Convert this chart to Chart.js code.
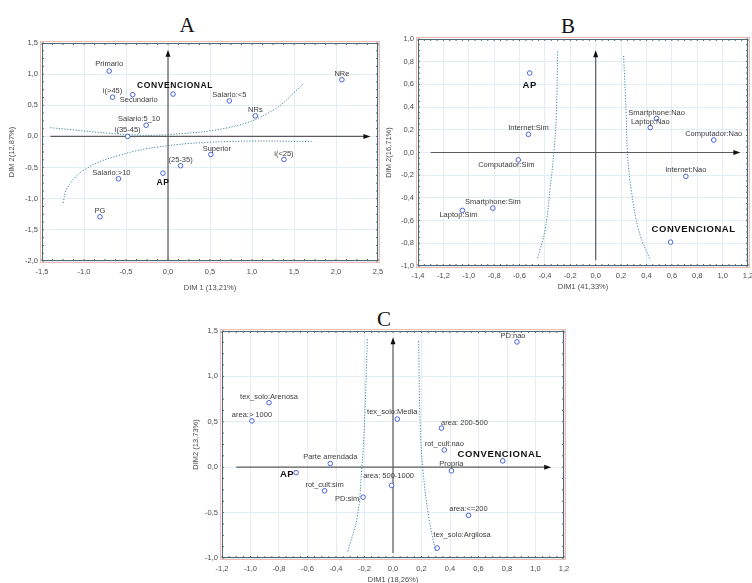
<!DOCTYPE html>
<html>
<head>
<meta charset="utf-8">
<script src="https://cdn.jsdelivr.net/npm/chart.js@4.4.1/dist/chart.umd.min.js"></script>
<style>
body { margin: 0; width: 752px; height: 583px; overflow: hidden; background: #fff; position: relative; }
canvas { position: absolute; }
.tag { position: absolute; font-family: "Liberation Serif", "Times New Roman", serif; font-size: 21px; color: #111; transform: translate(-50%, -50%); }
</style>
</head>
<body>
<div class="tag" style="left:187px; top:25px">A</div>
<div class="tag" style="left:568px; top:26px">B</div>
<div class="tag" style="left:384px; top:319px">C</div>
<canvas id="chartA" width="390" height="270" style="left:0px; top:30px; width:390px; height:270px"></canvas>
<canvas id="chartB" width="392" height="270" style="left:380px; top:30px; width:392px; height:270px"></canvas>
<canvas id="chartC" width="400" height="310" style="left:190px; top:290px; width:400px; height:310px"></canvas>
<script>
// ---- panel A ----
const labelsA = ["Primario", "i(>45)", "Secundario", "CONVENCIONAL", "Salario:<5", "NRs", "NRe", "Salario:5_10", "i(35-45)", "Superior", "i(<25)", "(25-35)", "AP", "Salario:>10", "PG"];
const xA = [-0.70, -0.66, -0.42, 0.06, 0.73, 1.04, 2.07, -0.26, -0.48, 0.51, 1.38, 0.15, -0.06, -0.59, -0.81];
const yA = [1.05, 0.63, 0.67, 0.68, 0.57, 0.33, 0.91, 0.18, 0.0, -0.29, -0.37, -0.47, -0.59, -0.68, -1.29];
const curveUpAx = [-1.40, -0.48, 0.01, 0.78, 1.25, 1.57, 1.62];
const curveUpAy = [0.14, 0.03, 0.03, 0.16, 0.42, 0.79, 0.86];
const curveLowAx = [-1.25, -1.20, -1.00, -0.60, -0.01, 0.78, 1.71];
const curveLowAy = [-1.07, -0.83, -0.54, -0.31, -0.15, -0.08, -0.08];

// ---- panel B ----
const labelsB = ["AP", "Internet:Sim", "Computador:Sim", "Smartphone:Sim", "Laptop:Sim", "Smartphone:Nao", "Laptop:Nao", "Computador:Nao", "Internet:Nao", "CONVENCIONAL"];
const xB = [-0.52, -0.53, -0.61, -0.81, -1.05, 0.48, 0.43, 0.93, 0.71, 0.59];
const yB = [0.70, 0.16, -0.065, -0.49, -0.51, 0.30, 0.22, 0.11, -0.21, -0.79];
const curveLeftBx = [-0.30, -0.31, -0.33, -0.36, -0.40, -0.46];
const curveLeftBy = [0.89, 0.34, 0.0, -0.33, -0.69, -0.94];
const curveRightBx = [0.22, 0.24, 0.25, 0.28, 0.34, 0.43];
const curveRightBy = [0.85, 0.34, 0.0, -0.33, -0.69, -0.95];

// ---- panel C ----
const labelsC = ["PD:nao", "tex_solo:Arenosa", "area:> 1000", "tex_solo:Media", "area: 200-500", "rot_cult:nao", "CONVENCIONAL", "Propria", "Parte arrendada", "AP", "area: 500-1000", "rot_cult:sim", "PD:sim", "area:<=200", "tex_solo:Argilosa"];
const xC = [0.87, -0.87, -0.99, 0.03, 0.34, 0.36, 0.77, 0.41, -0.44, -0.68, -0.01, -0.48, -0.21, 0.53, 0.31];
const yC = [1.38, 0.71, 0.51, 0.53, 0.43, 0.19, 0.07, -0.04, 0.04, -0.06, -0.20, -0.26, -0.33, -0.53, -0.89];
const curveLeftCx = [-0.18, -0.20, -0.22, -0.25, -0.32];
const curveLeftCy = [1.41, 0.49, -0.03, -0.54, -0.94];
const curveRightCx = [0.18, 0.19, 0.21, 0.25, 0.30];
const curveRightCy = [1.39, 0.49, -0.03, -0.54, -0.94];

// label placement next to each point (pixels)
const offA = [[0,-7],[0,-6],[6,5],[2,-8],[0,-6],[0,-6],[0,-6],[-7,-6],[0,-6],[6,-6],[0,-6],[0,-6],[0,9],[-7,-6],[0,-6]];
const offB = [[0,12],[0,-6],[-12,5],[0,-6],[-4,5],[0,-6],[0,-6],[0,-6],[0,-6],[23,-13]];
const offC = [[-4,-6],[0,-6],[0,-6],[-5,-7],[23,-5],[0,-6],[-3,-6],[0,-7],[0,-7],[-9,2],[-3,-9],[0,-6],[-16,2],[0,-6],[25,-13]];

const boldNames = ["CONVENCIONAL", "AP"];

const toPoints = (xs, ys) => xs.map((v, i) => ({ x: v, y: ys[i] }));
const fmt = (v) => (Math.abs(v) < 1e-9 ? 0 : v).toFixed(1).replace(".", ",");

const decor = {
    id: "decor",
    beforeDatasetsDraw(chart, args, opts) {
        const ctx = chart.ctx;
        const xs = chart.scales.x, ys = chart.scales.y;
        const yz = ys.getPixelForValue(0), xz = xs.getPixelForValue(0);
        const hx0 = xs.getPixelForValue(opts.hLine[0]), hx1 = xs.getPixelForValue(opts.hLine[1]);
        const vy0 = ys.getPixelForValue(opts.vLine[0]), vy1 = ys.getPixelForValue(opts.vLine[1]);
        ctx.save();
        ctx.strokeStyle = "#5b5b5b";
        ctx.lineWidth = 1.2;
        ctx.beginPath();
        ctx.moveTo(hx0, yz); ctx.lineTo(hx1 - 4, yz);
        ctx.moveTo(xz, vy0); ctx.lineTo(xz, vy1 + 4);
        ctx.stroke();
        ctx.fillStyle = "#111";
        ctx.beginPath();
        ctx.moveTo(hx1, yz); ctx.lineTo(hx1 - 7, yz - 2.5); ctx.lineTo(hx1 - 7, yz + 2.5); ctx.closePath();
        ctx.moveTo(xz, vy1); ctx.lineTo(xz - 2.5, vy1 + 7); ctx.lineTo(xz + 2.5, vy1 + 7); ctx.closePath();
        ctx.fill();
        ctx.restore();
    },
    afterDatasetsDraw(chart, args, opts) {
        const ctx = chart.ctx;
        const a = chart.chartArea;
        const xs = chart.scales.x, ys = chart.scales.y;
        ctx.save();
        // outer faint red line and frame
        ctx.strokeStyle = "rgba(225,130,115,0.55)";
        ctx.lineWidth = 1;
        ctx.strokeRect(a.left - 1.5, a.top - 1.5, a.right - a.left + 3, a.bottom - a.top + 3);
        ctx.strokeStyle = "#4d6a74";
        ctx.strokeRect(a.left + 0.5, a.top + 0.5, a.right - a.left - 1, a.bottom - a.top - 1);
        // small inward ticks
        ctx.beginPath();
        const sx = opts.minor[0], sy = opts.minor[1];
        for (let v = xs.min; v <= xs.max + 1e-9; v += sx) {
            const p = xs.getPixelForValue(v);
            ctx.moveTo(p, a.bottom); ctx.lineTo(p, a.bottom - 2);
            ctx.moveTo(p, a.top); ctx.lineTo(p, a.top + 2);
        }
        for (let v = ys.min; v <= ys.max + 1e-9; v += sy) {
            const p = ys.getPixelForValue(v);
            ctx.moveTo(a.left, p); ctx.lineTo(a.left + 2, p);
            ctx.moveTo(a.right, p); ctx.lineTo(a.right - 2, p);
        }
        ctx.stroke();
        // point labels
        const ds = chart.data.datasets[0];
        const meta = chart.getDatasetMeta(0);
        ctx.textAlign = "center";
        ctx.textBaseline = "middle";
        meta.data.forEach((el, i) => {
            const name = ds.names[i];
            const off = ds.offsets[i];
            if (boldNames.includes(name)) {
                ctx.font = "bold " + opts.boldSize + "px 'Liberation Sans', Arial, sans-serif";
                ctx.fillStyle = "#111";
                ctx.letterSpacing = "0.6px";
            } else {
                ctx.font = "7.5px 'Liberation Sans', Arial, sans-serif";
                ctx.fillStyle = "#3c3c3c";
                ctx.letterSpacing = "0px";
            }
            ctx.fillText(name, el.x + off[0], el.y + off[1]);
        });
        ctx.restore();
    }
};

function curve(xs, ys) {
    return {
        data: toPoints(xs, ys),
        showLine: true,
        pointRadius: 0,
        borderColor: "#3f8797",
        borderWidth: 1,
        borderDash: [1.2, 1.6],
        tension: 0.4,
        fill: false
    };
}

function makePanel(id, cfg) {
    return new Chart(document.getElementById(id), {
        type: "scatter",
        data: {
            datasets: [
                {
                    data: toPoints(cfg.xs, cfg.ys),
                    names: cfg.names,
                    offsets: cfg.offsets,
                    pointStyle: "circle",
                    pointRadius: 2.3,
                    borderWidth: 1,
                    borderColor: "#4a63d6",
                    backgroundColor: "#ffffff"
                },
                ...cfg.curves
            ]
        },
        options: {
            responsive: false,
            animation: false,
            layout: { padding: cfg.pad },
            plugins: {
                legend: { display: false },
                tooltip: { enabled: false },
                decor: { hLine: cfg.hLine, vLine: cfg.vLine, minor: cfg.minor, boldSize: cfg.boldSize }
            },
            scales: {
                x: {
                    type: "linear",
                    min: cfg.xRange[0], max: cfg.xRange[1],
                    ticks: { stepSize: cfg.xRange[2], padding: cfg.xTickPad, color: "#4a4a4a", font: { family: "'Liberation Sans', Arial", size: 7.5 }, callback: fmt, maxRotation: 0, autoSkip: false },
                    grid: { color: "#e4edf3", drawTicks: false },
                    border: { display: false },
                    title: { display: true, text: cfg.xTitle, color: "#4a4a4a", font: { family: "'Liberation Sans', Arial", size: 7.5 }, padding: { top: 0, bottom: cfg.xTitlePad } },
                    afterFit: (s) => { s.height = cfg.xHeight; }
                },
                y: {
                    type: "linear",
                    min: cfg.yRange[0], max: cfg.yRange[1],
                    ticks: { stepSize: cfg.yRange[2], padding: 4, color: "#4a4a4a", font: { family: "'Liberation Sans', Arial", size: 7.5 }, callback: fmt, autoSkip: false },
                    grid: { color: "#e4edf3", drawTicks: false },
                    border: { display: false },
                    title: { display: true, text: cfg.yTitle, color: "#4a4a4a", font: { family: "'Liberation Sans', Arial", size: 7.5 }, padding: { top: cfg.yTitlePad, bottom: 0 } },
                    afterFit: (s) => { s.width = cfg.yWidth; }
                }
            }
        },
        plugins: [decor]
    });
}

makePanel("chartA", {
    xs: xA, ys: yA, names: labelsA, offsets: offA,
    curves: [curve(curveUpAx, curveUpAy), curve(curveLowAx, curveLowAy)],
    xRange: [-1.5, 2.5, 0.5], yRange: [-2.0, 1.5, 0.5],
    hLine: [-1.40, 2.41], vLine: [-2.0, 1.39], minor: [0.125, 0.125],
    pad: { top: 13, right: 12, left: 0, bottom: 0 },
    yWidth: 42, xHeight: 39, xTickPad: 6, xTitlePad: 7.5, yTitlePad: 7.5,
    xTitle: "DIM 1 (13,21%)", yTitle: "DIM 2(12,87%)", boldSize: 8.5
});

makePanel("chartB", {
    xs: xB, ys: yB, names: labelsB, offsets: offB,
    curves: [curve(curveLeftBx, curveLeftBy), curve(curveRightBx, curveRightBy)],
    xRange: [-1.4, 1.2, 0.2], yRange: [-1.0, 1.0, 0.2],
    hLine: [-1.30, 1.14], vLine: [-0.95, 0.90], minor: [0.05, 0.05],
    pad: { top: 9, right: 24, left: 0, bottom: 0 },
    yWidth: 38, xHeight: 34, xTickPad: 5.5, xTitlePad: 9, yTitlePad: 4.5,
    xTitle: "DIM1 (41,33%)", yTitle: "DIM 2(16,71%)", boldSize: 9.5
});

makePanel("chartC", {
    xs: xC, ys: yC, names: labelsC, offsets: offC,
    curves: [curve(curveLeftCx, curveLeftCy), curve(curveRightCx, curveRightCy)],
    xRange: [-1.2, 1.2, 0.2], yRange: [-1.0, 1.5, 0.5],
    hLine: [-1.10, 1.11], vLine: [-0.945, 1.43], minor: [0.05, 0.125],
    pad: { top: 41, right: 26, left: 0, bottom: 0 },
    yWidth: 32, xHeight: 42, xTickPad: 6, xTitlePad: 15.5, yTitlePad: 1.5,
    xTitle: "DIM1 (18,26%)", yTitle: "DIM2 (13,73%)", boldSize: 9.5
});
</script>
</body>
</html>
